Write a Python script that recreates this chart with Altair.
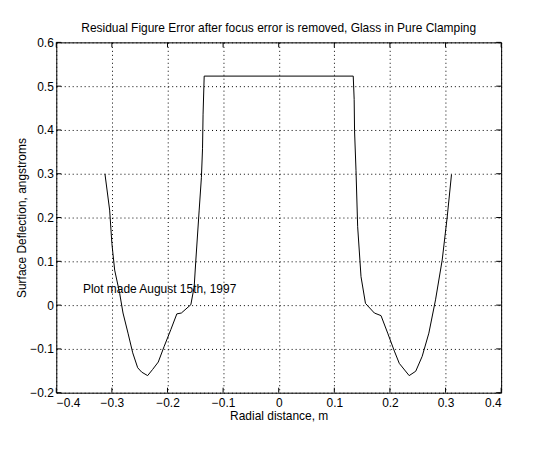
import altair as alt
import pandas as pd

# Curve (radial distance in m, deflection in angstroms)
x_vals = [-0.3125, -0.304, -0.300, -0.295, -0.286, -0.280, -0.271, -0.2625, -0.2536, -0.2464,
          -0.2357, -0.2268, -0.2166, -0.2059, -0.194, -0.1832, -0.175, -0.158, -0.152, -0.149,
          -0.143, -0.139, -0.137, -0.136, -0.134,
          0.134, 0.1357, 0.1364, 0.139, 0.142, 0.148, 0.156, 0.172, 0.184, 0.196,
          0.208, 0.2168, 0.2346, 0.2464, 0.258, 0.270, 0.282, 0.294, 0.303, 0.3107]
y_vals = [0.300, 0.217, 0.141, 0.080, 0.027, -0.018, -0.064, -0.109, -0.143, -0.153,
          -0.161, -0.147, -0.130, -0.094, -0.056, -0.020, -0.018, 0.001, 0.042, 0.103,
          0.217, 0.292, 0.357, 0.436, 0.523,
          0.523, 0.470, 0.398, 0.307, 0.179, 0.065, 0.004, -0.018, -0.024, -0.064,
          -0.105, -0.133, -0.161, -0.151, -0.117, -0.064, 0.012, 0.103, 0.201, 0.298]

x_ticks = [-0.4, -0.3, -0.2, -0.1, 0.0, 0.1, 0.2, 0.3, 0.4]
y_ticks = [-0.2, -0.1, 0.0, 0.1, 0.2, 0.3, 0.4, 0.5, 0.6]

title_text = "Residual Figure Error after focus error is removed, Glass in Pure Clamping"
x_title = "Radial distance, m"
y_title = "Surface Deflection, angstroms"
note_text = ["Plot made August 15th, 1997"]
note_x = [-0.352]
note_y = [0.037]

W, H = 447, 352
FONT = "Liberation Sans"
FS = 12

df = pd.DataFrame({"x": x_vals, "y": y_vals, "i": range(len(x_vals))})
xt = pd.DataFrame({"x": x_ticks})
yt = pd.DataFrame({"y": y_ticks})
note = pd.DataFrame({"x": note_x, "y": note_y, "label": note_text})

xscale = alt.Scale(domain=[-0.4, 0.4], nice=False, zero=False)
yscale = alt.Scale(domain=[-0.2, 0.6], nice=False, zero=False)

x_axis = alt.Axis(values=x_ticks, format=".1~f", title=x_title, grid=True,
                  gridColor="black", gridDash=[1, 3], gridOpacity=1, gridWidth=1,
                  domain=False, ticks=False, labelPadding=5, labelFont=FONT, labelFontSize=FS,
                  labelColor="black", titleFont=FONT, titleFontSize=FS, titleFontWeight="normal",
                  titleColor="black", titlePadding=2)
y_axis = alt.Axis(values=y_ticks, format=".1~f", title=y_title, grid=True,
                  gridColor="black", gridDash=[1, 3], gridOpacity=1, gridWidth=1,
                  domain=False, ticks=False, labelPadding=3, labelFont=FONT, labelFontSize=FS,
                  labelColor="black", titleFont=FONT, titleFontSize=FS, titleFontWeight="normal",
                  titleColor="black", titlePadding=1)

X = alt.X("x:Q", scale=xscale, axis=x_axis)
Y = alt.Y("y:Q", scale=yscale, axis=y_axis)

line = alt.Chart(df).mark_line(color="black", strokeWidth=1, interpolate="linear").encode(
    x=X, y=Y, order="i:Q",
)

tick_top = alt.Chart(xt).mark_rule(color="black", strokeWidth=1).encode(
    x=X, y=alt.value(0), y2=alt.value(5))
tick_bot = alt.Chart(xt).mark_rule(color="black", strokeWidth=1).encode(
    x=X, y=alt.value(H), y2=alt.value(H - 5))
tick_left = alt.Chart(yt).mark_rule(color="black", strokeWidth=1).encode(
    y=Y, x=alt.value(0), x2=alt.value(5))
tick_right = alt.Chart(yt).mark_rule(color="black", strokeWidth=1).encode(
    y=Y, x=alt.value(W), x2=alt.value(W - 5))

text = alt.Chart(note).mark_text(align="left", baseline="middle", font=FONT, fontSize=FS,
                                 color="black").encode(
    x=X, y=Y, text="label:N",
)

chart = alt.layer(line, tick_top, tick_bot, tick_left, tick_right, text).properties(
    width=W, height=H,
    title=alt.TitleParams(title_text, font=FONT, fontSize=FS, fontWeight="normal",
                          color="black", anchor="middle", offset=1),
    autosize=alt.AutoSizeParams(type="none"),
    padding={"left": 48.5, "top": 33.5, "right": 30, "bottom": 50},
    background="white",
).configure_view(stroke="black", strokeWidth=1)

chart.save("out.html", embed_options={"renderer": "svg", "actions": False})
